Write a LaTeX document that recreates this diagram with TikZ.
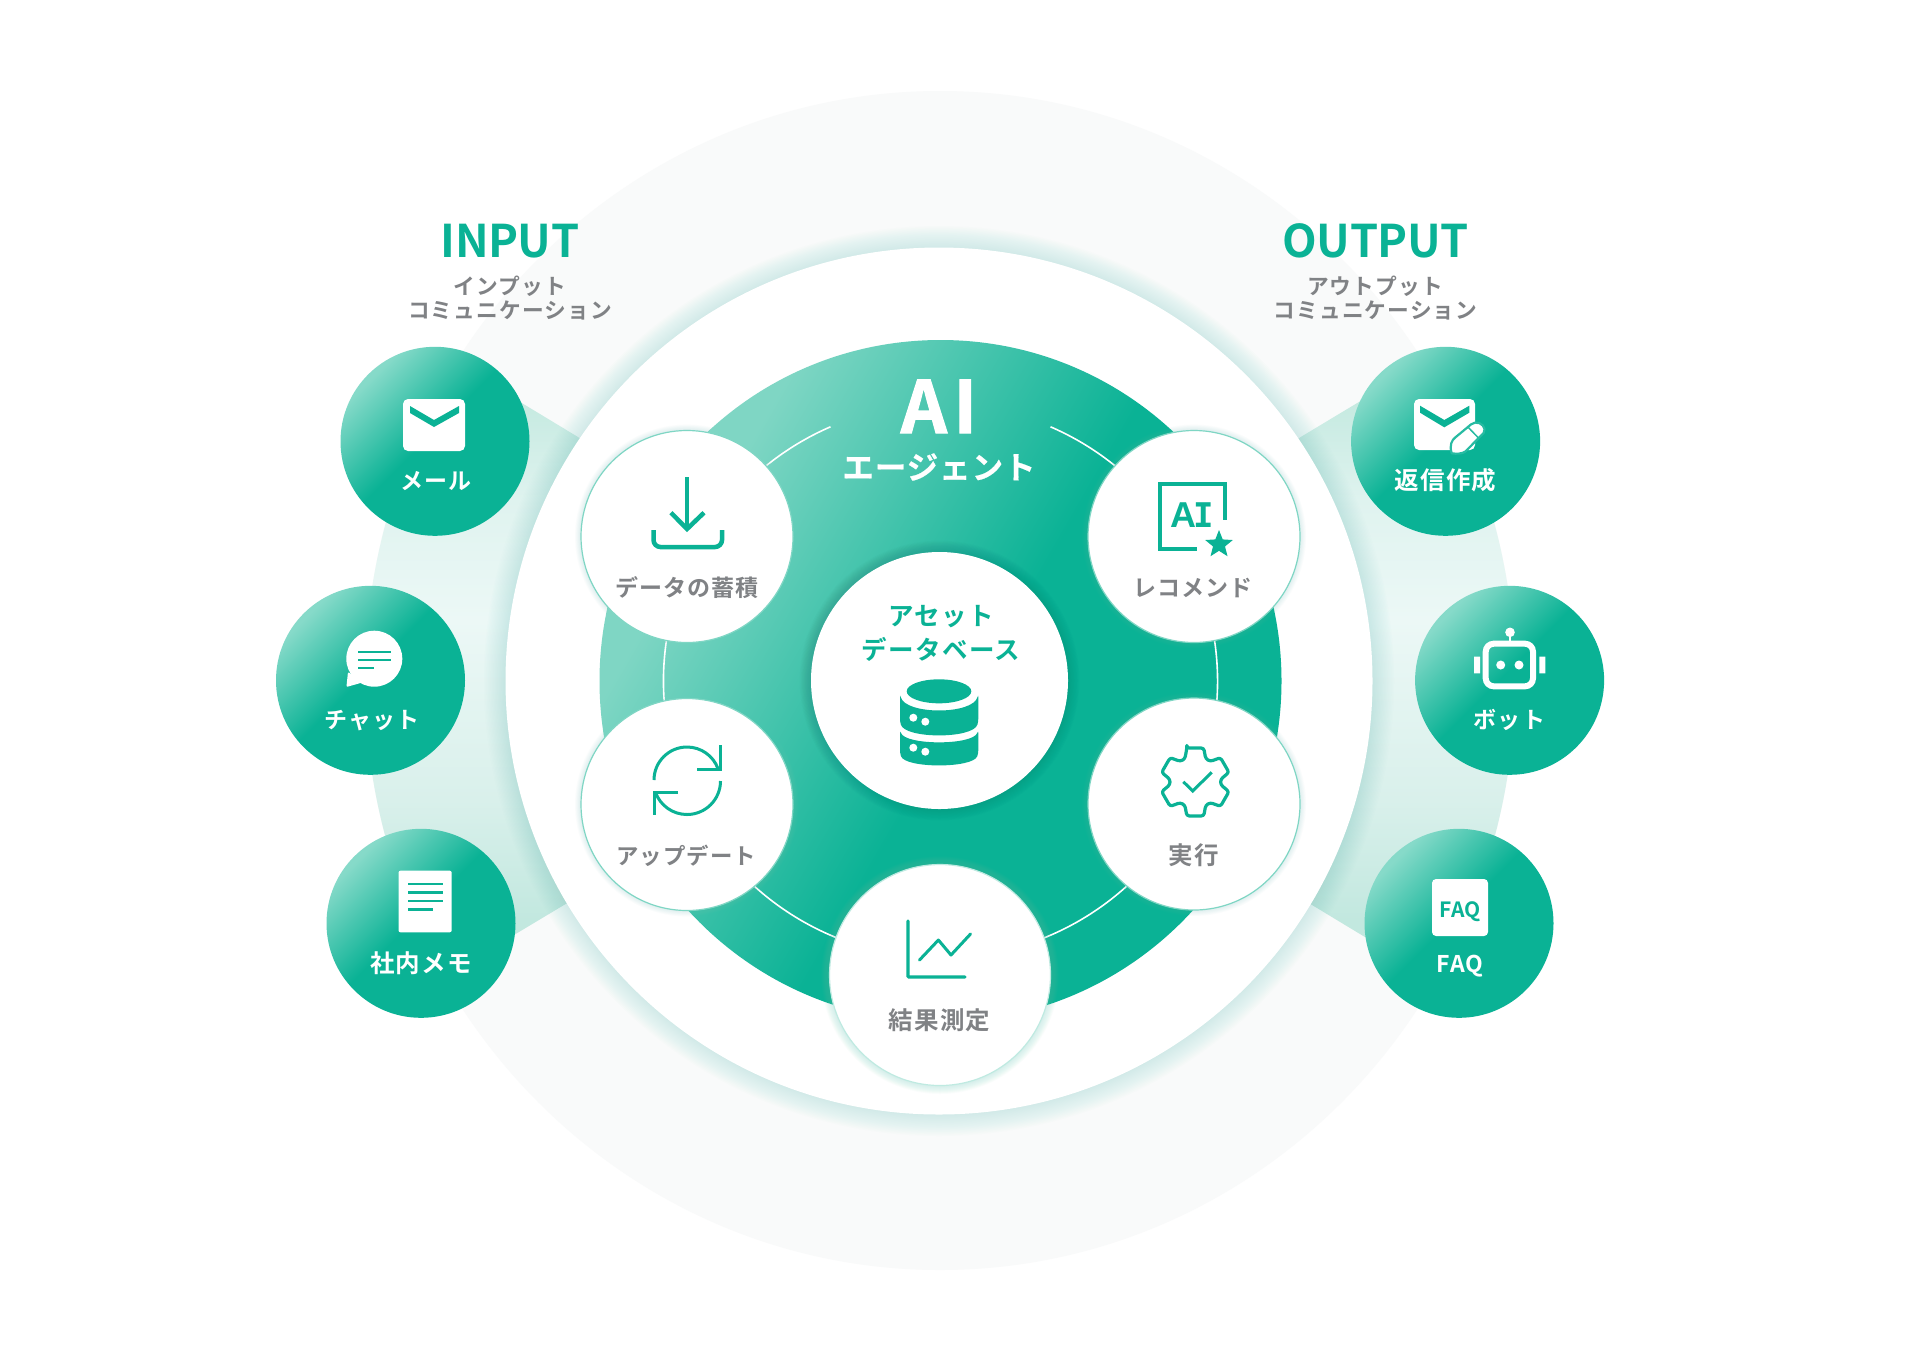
\documentclass[tikz,border=0pt]{standalone}
\usepackage{fontspec}
\usetikzlibrary{shapes.geometric,calc}
\setmainfont{Noto Sans CJK JP}[BoldFont=* Bold]
\newfontfamily\jptrk{Noto Sans CJK JP}[BoldFont=* Bold,LetterSpace=5]
\newfontfamily\jphead{Noto Sans CJK JP}[BoldFont=* Bold,LetterSpace=-1.2]
\newfontfamily\jpheavy{Noto Sans CJK JP}[BoldFont=* Bold,BoldFeatures={FakeBold=1.6,LetterSpace=9}]
\newfontfamily\jpagent{Noto Sans CJK JP}[BoldFont=* Bold,BoldFeatures={FakeBold=0.5,LetterSpace=3}]
\newfontfamily\icA{Liberation Sans}[BoldFont=* Bold]
\newfontfamily\icI{DejaVu Sans Mono}[BoldFont=* Bold]
\definecolor{solidg}{HTML}{0AB295}
\definecolor{lightg}{HTML}{86DAC9}
\definecolor{discl}{HTML}{7FD6C4}
\definecolor{mintg}{HTML}{7FD6C4}
\definecolor{greyt}{HTML}{808285}
\definecolor{greybg}{HTML}{F9FAFA}
\definecolor{bandA}{HTML}{C6EAE1}
\definecolor{bandB}{HTML}{DFF3EF}
\definecolor{bandC}{HTML}{ECF8F6}
\definecolor{bandD}{HTML}{D9F0EB}
\definecolor{bandE}{HTML}{C2E8DF}
\pgfdeclareverticalshading{discgrad}{100bp}{color(0bp)=(solidg); color(47.5bp)=(solidg); color(71bp)=(discl); color(100bp)=(discl)}
\pgfdeclareverticalshading{cardgrad}{100bp}{color(0bp)=(solidg); color(52bp)=(solidg); color(74bp)=(lightg); color(100bp)=(lightg)}
\pgfdeclareverticalshading{bandgrad}{100bp}{color(0bp)=(bandE); color(30bp)=(bandE); color(40bp)=(bandD); color(55bp)=(bandC); color(65bp)=(bandB); color(73bp)=(bandA); color(100bp)=(bandA)}
\newcommand{\softglow}[6]{% x y r width colour stepopacity
  \foreach \k in {1,...,16}{\fill[#5,opacity=#6] (#1,#2) circle ({#3+#4*\k/16});}}
\tikzset{
  outcirc/.style={circle,minimum size=189pt,inner sep=0pt,shade,shading=cardgrad,shading angle=45},
  whitecirc/.style={circle,minimum size=212pt,inner sep=0pt,fill=white,draw=mintg,line width=1.2pt},
  lab/.style={anchor=base,inner sep=0pt,font=\jptrk\bfseries\fontsize{23}{27}\selectfont},
  kanjilab/.style={font=\jptrk\bfseries\fontsize{24.5}{28}\selectfont},
  wlab/.style={lab,text=white},
  glab/.style={lab,text=greyt},
  sublab/.style={anchor=base,inner sep=0pt,text=greyt,font=\jptrk\bfseries\fontsize{21.7}{25}\selectfont},
  headlab/.style={anchor=base,inner sep=0pt,text=solidg,font=\jphead\bfseries\fontsize{45}{50}\selectfont},
  dblab/.style={anchor=base,inner sep=0pt,text=solidg,font=\jptrk\bfseries\fontsize{25.5}{29}\selectfont},
}
\begin{document}
\begin{tikzpicture}[x=1pt,y=-1pt]
\useasboundingbox (0,0) rectangle (1918,1350);
\fill[white] (0,0) rectangle (1918,1350);
% large pale disc
\fill[greybg] (940,680.5) ellipse [x radius=575pt,y radius=589.5pt];
% mint bands
\begin{scope}
  \clip (940,680.5) ellipse [x radius=575pt,y radius=589.5pt];
  \begin{scope}
    \clip (940,680) -- (578,437) -- (300,269) -- (300,1063) -- (564,905) -- cycle;
    \shade[shading=bandgrad] (280,380) rectangle (960,980);
  \end{scope}
  \begin{scope}
    \clip (940,680) -- (1300.7,437) -- (1580,269) -- (1580,1067) -- (1312,905) -- cycle;
    \shade[shading=bandgrad] (920,380) rectangle (1600,980);
  \end{scope}
\end{scope}
% glow and white disc
\softglow{939}{681}{433}{22}{mintg}{0.018}
\node[circle,minimum size=867pt,inner sep=0pt,fill=white] (whitedisc) at (939,681) {};
% green disc
\node[circle,minimum size=682pt,inner sep=0pt,shade,shading=discgrad,shading angle=60] (greendisc) at (940.5,681) {};
% thin ring
\draw[white,line width=1.6pt] (940.5,681) ++(293.4:277) arc[start angle=293.4,end angle=606.6,radius=277];
% centre
\softglow{939.5}{680.5}{128}{12}{black!50!solidg}{0.012}
\node[circle,minimum size=257pt,inner sep=0pt,fill=white] (centre) at (939.5,680.5) {};
% inner circles
\foreach \x/\y in {687/536.5,1194/536.5,687/804.5,1194/804}{\softglow{\x}{\y}{106}{6}{mintg}{0.015}}
\softglow{940}{975}{111}{8}{mintg}{0.02}
\node[whitecirc] (data) at (687,536.5) {};
\node[whitecirc] (reco) at (1194,536.5) {};
\node[whitecirc] (update) at (687,804.5) {};
\node[whitecirc] (exec) at (1194,804) {};
\node[whitecirc,minimum size=221pt,draw=mintg!50] (result) at (940,975) {};
% outer circles
\node[outcirc] (mail) at (435,441.3) {};
\node[outcirc] (chat) at (370.5,680.3) {};
\node[outcirc] (memo) at (421,923.3) {};
\node[outcirc] (reply) at (1445.6,441.3) {};
\node[outcirc] (bot) at (1509.6,680.3) {};
\node[outcirc] (faq) at (1459,923.3) {};
% mail icon
\fill[white,rounded corners=5pt] (403,399) rectangle (465,451);
\fill[solidg] (410,406) -- (434,420) -- (459,406) -- (459,413) -- (434,427) -- (410,413) -- cycle;
% reply icon
\fill[white,rounded corners=5pt] (1414,399) rectangle (1475,450);
\fill[solidg] (1420,405.7) -- (1444.3,420) -- (1469.3,405.7) -- (1469.3,412.7) -- (1444.3,427.3) -- (1420,412.7) -- cycle;
\draw[fill=white,draw=solidg!88!white,line width=2.2pt,line join=round]
  (1451.7,453.3) .. controls (1449,445) and (1452,440) .. (1455.1,437.6)
  -- (1471,424.4) .. controls (1476,420) and (1484,424) .. (1484.5,429)
  .. controls (1485,432) and (1483,434) .. (1481.4,435.2)
  -- (1465.5,451.4) .. controls (1462,454) and (1456,454) .. cycle;
\draw[draw=solidg!88!white,line width=1.5pt] (1468.1,427.2) -- (1478.5,438);
% chat icon
\fill[white] (374.3,658.7) circle (28);
\fill[white,line join=round,rounded corners=1pt] (348,672) -- (346.4,687) -- (364,682) -- cycle;
\draw[solidg,line width=2.2pt] (358,651.7) -- (391,651.7) (358,660) -- (391,660) (358,668) -- (374,668);
% memo icon
\fill[white,rounded corners=2pt] (398.5,870.7) rectangle (451.7,932.3);
\draw[solidg,line width=2.4pt] (408,884) -- (443,884) (408,892.3) -- (443,892.3) (408,900.7) -- (443,900.7) (408,909.3) -- (433,909.3);
% bot icon
\draw[white,line width=6pt,rounded corners=8pt] (1485.7,643.7) rectangle (1533,686.3);
\fill[white] (1500.7,665) circle (4.5) (1519,665) circle (4.5) (1510,632.3) circle (4.8);
\draw[white,line width=2.6pt] (1510,634) -- (1510,642);
\fill[white] (1474,656.7) rectangle (1480,673.3) (1539.3,656.7) rectangle (1545.3,673.3);
% faq icon
\fill[white,rounded corners=4pt] (1432,879) rectangle (1488,936);
\node[anchor=base,inner sep=0pt,text=solidg,font=\bfseries\fontsize{21}{24}\selectfont] (faqicon) at (1460,917.5) {FAQ};
% download icon
\draw[solidg,line width=4.5pt] (687,477) -- (687,528);
\draw[solidg,line width=4.5pt] (671,512.7) -- (687,529) -- (704,512.7);
\draw[solidg,line width=4.5pt,rounded corners=7pt] (653.5,530) -- (653.5,547) -- (722,547) -- (722,530);
% AI icon
\draw[solidg,line width=4pt] (1196.7,549.3) -- (1159.7,549.3) -- (1159.7,483.7) -- (1225.3,483.7) -- (1225.3,520);
\node[anchor=base,inner sep=0pt,text=solidg] (aiicon) at (1192,527) {{\icA\bfseries\fontsize{36}{38}\selectfont A}{\icI\bfseries\fontsize{34}{38}\selectfont\kern-3pt I}};
\node[star,star points=5,star point ratio=2.3,minimum size=29pt,inner sep=0pt,fill=solidg] (stariicon) at (1219,544.5) {};
% refresh icon
\draw[solidg,line width=3pt] (654,780) arc[start angle=180,end angle=340,radius=33];
\draw[solidg,line width=3pt] (720.5,781) arc[start angle=0,end angle=160,radius=33.5];
\draw[solidg,line width=3pt] (720.7,745) -- (720.7,769) -- (696.6,769);
\draw[solidg,line width=3pt] (678,792) -- (654,792) -- (654,815);
% gear icon
\draw[solidg,line width=3.2pt,line join=round,rounded corners=2.5pt]
  ($(1195.3,782)+(-104:35)$) \foreach \a in {-90,-30,30,90,150,210}{
    -- ($(1195.3,782)+(\a-14:35)$) -- ($(1195.3,782)+(\a+14:35)$) -- ($(1195.3,782)+(\a+24:25.5)$) -- ($(1195.3,782)+(\a+36:25.5)$) } -- cycle;
\draw[solidg,line width=3pt] (1183.3,781.7) -- (1192.7,791) -- (1211.7,772.3);
% chart icon
\draw[solidg,line width=3.4pt,line cap=round,rounded corners=1pt] (908,921) -- (908,977) -- (965,977);
\draw[solidg,line width=3pt,line cap=round,line join=round] (919.5,960) -- (938.4,940) -- (951,955) -- (970.5,934);
% database icon
\fill[solidg] (939,691.3) ellipse [x radius=32.3pt,y radius=12pt];
\fill[solidg,rounded corners=3pt] (900,694) .. controls (905,715) and (973,715) .. (978.3,694) -- (978.3,721.7) .. controls (973,739) and (905,739) .. (900,721.7) -- cycle;
\fill[solidg,rounded corners=3pt] (900,730) .. controls (905,745.5) and (973,745.5) .. (978.3,730) -- (978.3,753.3) .. controls (973,768.5) and (905,768.5) .. (900,753.3) -- cycle;
\fill[white] (913.3,717.7) circle (4) (925.3,721.7) circle (4) (913.3,747.7) circle (4) (925.3,751.7) circle (4);
% texts
\node[headlab] (inputt) at (510,257) {INPUT};
\node[sublab] (inputa) at (510,294.5) {インプット};
\node[sublab] (inputb) at (510,318.5) {コミュニケーション};
\node[headlab] (outputt) at (1375.5,257) {OUTPUT};
\node[sublab] (outputa) at (1375,294.5) {アウトプット};
\node[sublab] (outputb) at (1375.5,318.5) {コミュニケーション};
\node[wlab] (tmail) at (436,489) {メール};
\node[wlab] (tchat) at (372,728) {チャット};
\node[wlab,kanjilab] (tmemo) at (421,972) {社内メモ};
\node[wlab,kanjilab] (treply) at (1445.5,489) {返信作成};
\node[wlab] (tbot) at (1509.5,728) {ボット};
\node[wlab] (tfaq) at (1460,972.5) {FAQ};
\node[glab] (tdata) at (687,596) {データの蓄積};
\node[glab] (treco) at (1193,596) {レコメンド};
\node[glab,font=\jptrk\bfseries\fontsize{22.4}{27}\selectfont] (tupdate) at (686,864) {アップデート};
\node[glab,kanjilab] (texec) at (1193.5,864) {実行};
\node[glab,kanjilab] (tresult) at (939.5,1029) {結果測定};
\node[anchor=base,inner sep=0pt,text=white,font=\jpheavy\bfseries\fontsize{72}{75}\selectfont] (tai) at (939,433) {AI};
\node[anchor=base,inner sep=0pt,text=white,font=\jpagent\bfseries\fontsize{31.5}{35}\selectfont] (tagent) at (939,479) {エージェント};
\node[dblab] (tasset) at (941,625.5) {アセット};
\node[dblab] (tbase) at (941,659.5) {データベース};
\end{tikzpicture}
\end{document}
